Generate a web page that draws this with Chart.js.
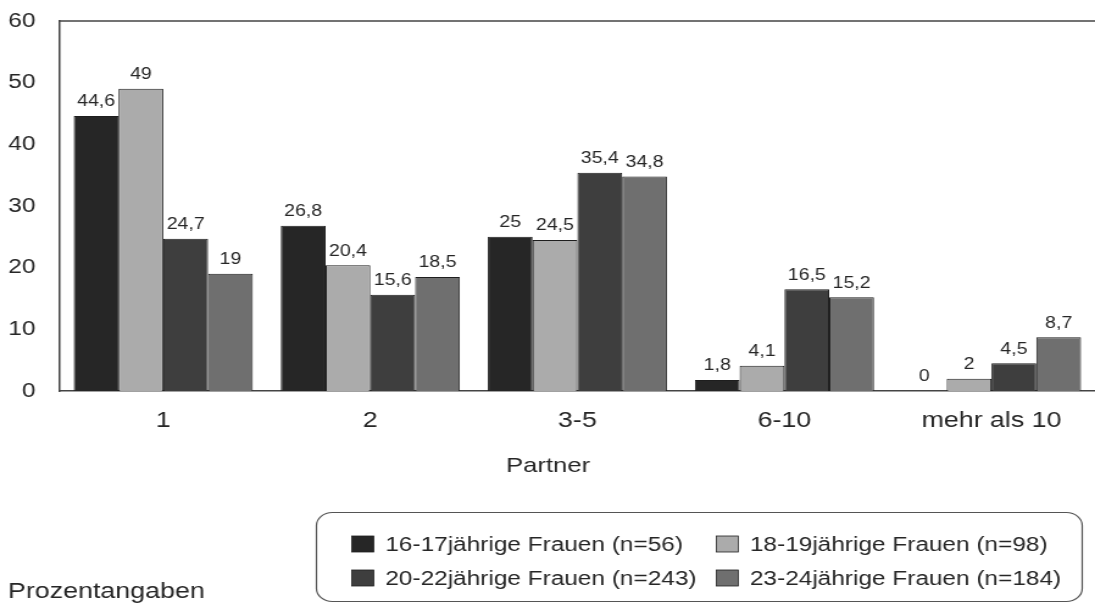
<!DOCTYPE html>
<html lang="de">
<head>
<meta charset="utf-8">
<title>Partner</title>
<script src="https://cdn.jsdelivr.net/npm/chart.js@4/dist/chart.umd.min.js"></script>
<style>
  html, body { margin: 0; padding: 0; background: #fff; overflow: hidden; }
  #wrap { width: 898px; height: 606px; transform: scaleX(1.2194); transform-origin: 0 0; }
  canvas { display: block; }
</style>
</head>
<body>
<div id="wrap"><canvas id="c" width="898" height="606"></canvas></div>
<script>
// Anzahl der Sexualpartner nach Altersgruppe (Prozentangaben)
const categories = ['1', '2', '3-5', '6-10', 'mehr als 10'];
const frauen16_17 = [44.6, 26.8, 25, 1.8, 0];
const frauen18_19 = [49, 20.4, 24.5, 4.1, 2];
const frauen20_22 = [24.7, 15.6, 35.4, 16.5, 4.5];
const frauen23_24 = [19, 18.5, 34.8, 15.2, 8.7];
const seriesLabels = [
  '16-17jährige Frauen (n=56)',
  '18-19jährige Frauen (n=98)',
  '20-22jährige Frauen (n=243)',
  '23-24jährige Frauen (n=184)'
];
const yTicks = [0, 10, 20, 30, 40, 50, 60];
const xAxisTitle = 'Partner';
const footnote = 'Prozentangaben';

const FONT = '"Liberation Sans", Arial, Helvetica, sans-serif';
const TEXT = '#262626';
const colors = ['#262626', '#ababab', '#3e3e3e', '#6f6f6f'];

const fmt = v => String(v).replace('.', ',');

// Werte über den Balken
const valueLabels = {
  id: 'valueLabels',
  afterDatasetsDraw(chart) {
    const ctx = chart.ctx;
    ctx.save();
    ctx.font = '16px ' + FONT;
    ctx.fillStyle = TEXT;
    ctx.textAlign = 'center';
    ctx.textBaseline = 'bottom';
    chart.data.datasets.forEach((ds, i) => {
      chart.getDatasetMeta(i).data.forEach((bar, j) => {
        ctx.fillText(fmt(ds.data[j]), bar.x, bar.y - 6);
      });
    });
    ctx.restore();
  }
};

// Rahmen oben, Achsentitel, Legendenkasten und Fußnote
const decorations = {
  id: 'decorations',
  afterDraw(chart) {
    const ctx = chart.ctx;
    const a = chart.chartArea;
    ctx.save();
    ctx.strokeStyle = '#444';
    ctx.lineWidth = 1.5;
    ctx.beginPath();
    ctx.moveTo(a.left, a.top);
    ctx.lineTo(a.right, a.top);
    ctx.stroke();

    ctx.fillStyle = TEXT;
    ctx.font = '21px ' + FONT;
    ctx.textAlign = 'center';
    ctx.textBaseline = 'middle';
    ctx.fillText(xAxisTitle, 449.5, 466);

    // Legende
    ctx.strokeStyle = '#555';
    ctx.lineWidth = 1.2;
    ctx.beginPath();
    ctx.roundRect(259.5, 512.5, 628, 89, 13);
    ctx.stroke();

    const cols = [288.5, 587.5];
    const rows = [544, 578];
    ctx.font = '20px ' + FONT;
    ctx.textAlign = 'left';
    chart.data.datasets.forEach((ds, i) => {
      const x = cols[i % 2];
      const y = rows[Math.floor(i / 2)];
      ctx.fillStyle = ds.backgroundColor;
      ctx.fillRect(x, y - 8, 18, 16);
      ctx.strokeStyle = '#222';
      ctx.lineWidth = 0.8;
      ctx.strokeRect(x, y - 8, 18, 16);
      ctx.fillStyle = TEXT;
      ctx.fillText(ds.label, x + 27.5, y + 1);
    });

    ctx.font = '22px ' + FONT;
    ctx.fillStyle = TEXT;
    ctx.fillText(footnote, 6.5, 592);
    ctx.restore();
  }
};

const seriesData = [frauen16_17, frauen18_19, frauen20_22, frauen23_24];

new Chart(document.getElementById('c'), {
  type: 'bar',
  data: {
    labels: categories,
    datasets: seriesData.map((d, i) => ({
      label: seriesLabels[i],
      data: d,
      backgroundColor: colors[i],
      borderColor: '#1e1e1e',
      borderWidth: 1,
      categoryPercentage: 0.865,
      barPercentage: 1.0
    }))
  },
  options: {
    responsive: false,
    animation: false,
    devicePixelRatio: 1,
    layout: { padding: { top: 21, right: 0, bottom: 128, left: 0 } },
    plugins: {
      legend: { display: false },
      tooltip: { enabled: false },
      title: { display: false }
    },
    scales: {
      x: {
        grid: { display: false, drawTicks: false },
        border: { display: true, color: '#444', width: 1.5 },
        ticks: { color: TEXT, font: { family: FONT, size: 22 }, padding: 17, maxRotation: 0 },
        afterFit(scale) { scale.height = 87; }
      },
      y: {
        min: 0,
        max: 60,
        grid: { display: false, drawTicks: false },
        border: { display: true, color: '#444', width: 1.5 },
        afterBuildTicks(scale) { scale.ticks = yTicks.map(v => ({ value: v })); },
        ticks: { color: TEXT, font: { family: FONT, size: 20 }, padding: 20 },
        afterFit(scale) {
          scale.width = 49;
          scale.paddingTop = 0;
          scale.paddingBottom = 0;
        }
      }
    }
  },
  plugins: [valueLabels, decorations]
});
</script>
</body>
</html>
